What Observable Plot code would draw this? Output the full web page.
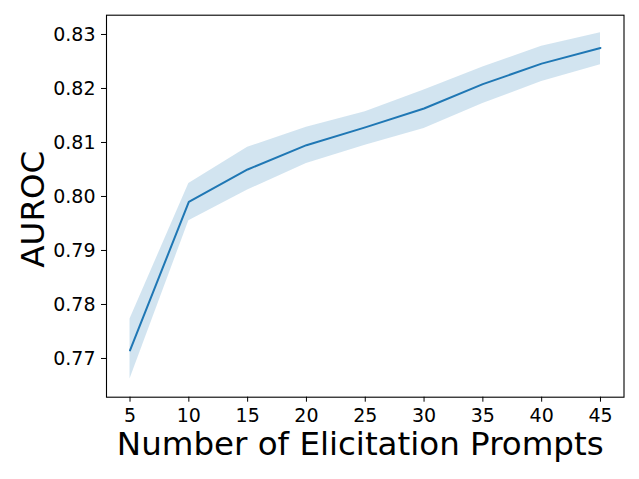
<!DOCTYPE html>
<html>
<head>
<meta charset="utf-8">
<script src="https://cdn.jsdelivr.net/npm/d3@7"></script>
<script src="https://cdn.jsdelivr.net/npm/@observablehq/plot@0.6"></script>
<style>
  html, body { margin: 0; padding: 0; background: white; }
</style>
</head>
<body>
<div id="chart"></div>
<script>
const prompts = [5, 10, 15, 20, 25, 30, 35, 40, 45];
const meanAuroc = [0.7715, 0.7990, 0.8050, 0.8095, 0.8128, 0.8163, 0.8208, 0.8246, 0.8275];
const upperAuroc = [0.7773, 0.8024, 0.8091, 0.8128, 0.8157, 0.8197, 0.8240, 0.8278, 0.8303];
const lowerAuroc = [0.7662, 0.7955, 0.8012, 0.8061, 0.8095, 0.8126, 0.8172, 0.8213, 0.8244];
const xTicks = [5, 10, 15, 20, 25, 30, 35, 40, 45];
const yTicks = [0.77, 0.78, 0.79, 0.80, 0.81, 0.82, 0.83];
const xLabel = "Number of Elicitation Prompts";
const yLabel = "AUROC";

const data = prompts.map((p, i) => ({p, mean: meanAuroc[i], lo: lowerAuroc[i], hi: upperAuroc[i]}));
const blue = "#1f77b4";

const chart = Plot.plot({
  width: 639,
  height: 479,
  marginLeft: 106,
  marginRight: 15.5,
  marginTop: 14.7,
  marginBottom: 82.3,
  style: {fontFamily: "'DejaVu Sans', sans-serif", fontSize: "19px", background: "white", color: "black", overflow: "visible"},
  x: {domain: [3, 47]},
  y: {domain: [0.76283, 0.83357]},
  marks: [
    Plot.areaY(data, {x: "p", y1: "lo", y2: "hi", fill: blue, fillOpacity: 0.2}),
    Plot.lineY(data, {x: "p", y: "mean", stroke: blue, strokeWidth: 2}),
    Plot.frame({stroke: "black", strokeWidth: 1.1}),
    Plot.axisX({ticks: xTicks, tickSize: 5, tickPadding: 6, tickFormat: d => String(d), label: null, fontSize: 19}),
    Plot.axisY({ticks: yTicks, tickSize: 5, tickPadding: 6, tickFormat: d3.format(".2f"), label: null, fontSize: 19}),
    Plot.text([xLabel], {text: d => d, frameAnchor: "bottom", textAnchor: "middle", lineAnchor: "middle", dy: 47, dx: -5, fontSize: 32.5, fill: "black"}),
    Plot.text([yLabel], {text: d => d, frameAnchor: "left", textAnchor: "middle", lineAnchor: "middle", rotate: -90, dx: -72.7, dy: 3, fontSize: 32.5, fill: "black"})
  ]
});
document.getElementById("chart").appendChild(chart);
</script>
</body>
</html>
